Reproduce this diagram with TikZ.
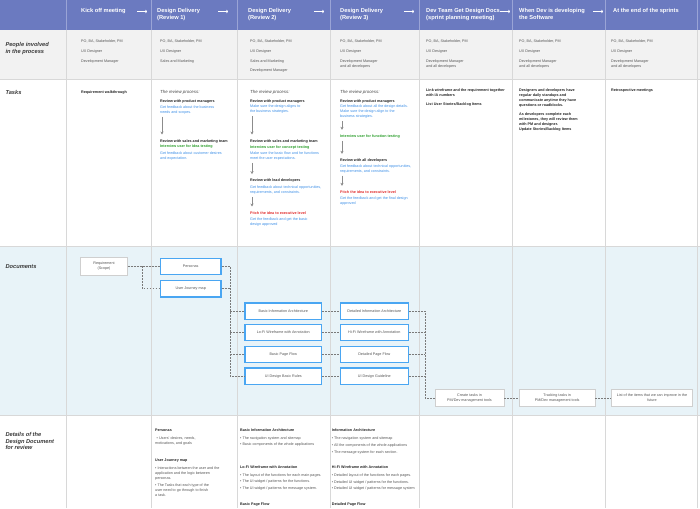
\documentclass[tikz,border=0pt]{standalone}
\usepackage{fontspec}
\setmainfont{Liberation Sans}
\usetikzlibrary{arrows.meta}

\definecolor{hdrblue}{HTML}{6B7AC0}
\definecolor{hdrline}{HTML}{9AA4D6}
\definecolor{peoplebg}{HTML}{F2F2F2}
\definecolor{docbg}{HTML}{E8F3F8}
\definecolor{gridgray}{HTML}{D8D8D8}
\definecolor{noteblue}{HTML}{3C8EE6}
\definecolor{notegreen}{HTML}{2A9D2A}
\definecolor{notered}{HTML}{E02A2A}
\definecolor{boxblue}{HTML}{4AA6F2}
\definecolor{boxgray}{HTML}{CFCFCF}
\definecolor{linkgray}{HTML}{7A7A7A}
\definecolor{flowgray}{HTML}{8C8C8C}
\definecolor{txtgray}{HTML}{555555}
\definecolor{txtdark}{HTML}{222222}

\newcommand{\steptitle}[1]{{\bfseries\color{txtdark}#1}}
\newcommand{\stepgreen}[1]{{\bfseries\color{notegreen}#1}}
\newcommand{\stepred}[1]{{\bfseries\color{notered}#1}}
\newcommand{\dtitle}[1]{{\bfseries\color{txtdark}#1}}

\tikzset{
  celltext/.style={font=\fontsize{3.7}{5}\selectfont, inner sep=0pt, anchor=north west, align=left},
  peopletext/.style={celltext, text=txtgray},
  tasktext/.style={celltext, text=txtdark, font=\fontsize{3.7}{5}\selectfont\bfseries},
  stepnote/.style={celltext, text=noteblue},
  detailtext/.style={celltext, text=txtgray},
  reviewtitle/.style={celltext, text=txtdark!85, font=\fontsize{4.4}{5}\selectfont\itshape},
  rowlabel/.style={inner sep=0pt, anchor=north west, align=left, text=txtdark!90,
    font=\fontsize{5.7}{7}\selectfont\bfseries\itshape},
  headtext/.style={inner sep=0pt, anchor=north west, align=left, text=white,
    font=\fontsize{5.7}{6.7}\selectfont\bfseries},
  headarrow/.style={white, line width=0.8pt, -{To[length=1.8pt,width=3.4pt]}},
  docbox/.style={fill=white, inner sep=0pt, align=center, text=txtgray,
    font=\fontsize{3.7}{5}\selectfont},
  keybox/.style={docbox, draw=boxblue, line width=1.3pt},
  plainbox/.style={docbox, draw=boxgray, line width=0.8pt},
  link/.style={linkgray, line width=0.6pt, dash pattern=on 1.8pt off 1.2pt},
  flow/.style={flowgray, line width=0.8pt, -{Stealth[length=3pt,width=3.2pt]}}
}

\begin{document}
\begin{tikzpicture}[x=1pt, y=-1pt]
\useasboundingbox (0,0) rectangle (700,508);

% bands
\fill[hdrblue] (0,0) rectangle (700,30);
\fill[peoplebg] (0,30) rectangle (700,80);
\fill[docbg] (0,246) rectangle (700,415);
\draw[gridgray, line width=1pt] (0,80) -- (700,80) (0,246) -- (700,246) (0,415) -- (700,415);
\foreach \x in {66,151,237,330,419,512,605,697} {
  \draw[hdrline, line width=1pt] (\x,0) -- (\x,30);
  \draw[gridgray, line width=1pt] (\x,30) -- (\x,508);
}

% header
\node[headtext] (h1) at (81,8.6) {Kick off meeting};
\node[headtext] (h2) at (157,8.6) {Design Delivery\\(Review 1)};
\node[headtext] (h3) at (248,8.6) {Design Delivery\\(Review 2)};
\node[headtext] (h4) at (340,8.6) {Design Delivery\\(Review 3)};
\node[headtext] (h5) at (426,8.6) {Dev Team Get Design Docs\\(sprint planning meeting)};
\node[headtext] (h6) at (519,8.6) {When Dev is developing\\the Software};
\node[headtext] (h7) at (613,8.6) {At the end of the sprints};
\foreach \ax in {142,223,319,409,505,598}
  \draw[headarrow] (\ax-5,11.5) -- (\ax+5,11.5);

% row labels
\node[rowlabel] (lpeople) at (5.3,42.3) {People involved\\in the process};
\node[rowlabel] (ltasks) at (5.3,90.2) {Tasks};
\node[rowlabel] (ldocs) at (5.3,264) {Documents};
\node[rowlabel, font=\fontsize{5.7}{6.7}\selectfont\bfseries\itshape] (ldetails) at (5.3,432.2) {Details of the\\Design Document\\for review};

% people involved
\node[peopletext] (p1) at (81,39.3) {PO, BA, Stakeholder, PM\\[5pt]UX Designer\\[5pt]Development Manager};
\node[peopletext] (p2) at (160,39.3) {PO, BA, Stakeholder, PM\\[5pt]UX Designer\\[5pt]Sales and Marketing};
\node[peopletext] (p3) at (250,39.3) {PO, BA, Stakeholder, PM\\[5pt]UX Designer\\[5pt]Sales and Marketing\\[4.6pt]Development Manager};
\node[peopletext] (p4) at (340,39.3) {PO, BA, Stakeholder, PM\\[5pt]UX Designer\\[5pt]Development Manager\\and all developers};
\node[peopletext] (p5) at (426,39.3) {PO, BA, Stakeholder, PM\\[5pt]UX Designer\\[5pt]Development Manager\\and all developers};
\node[peopletext] (p6) at (519,39.3) {PO, BA, Stakeholder, PM\\[5pt]UX Designer\\[5pt]Development Manager\\and all developers};
\node[peopletext] (p7) at (611,39.3) {PO, BA, Stakeholder, PM\\[5pt]UX Designer\\[5pt]Development Manager\\and all developers};

% tasks
\node[tasktext] (t1) at (81,90.6) {Requirement walkthrough};

\node[reviewtitle] (rev2) at (160,90.4) {The review process:};
\node[stepnote] (s2a) at (160,99.3) {\steptitle{Review with product managers}\\[1pt]Get feedback about the business\\needs and scopes.};
\node[stepnote] (s2b) at (160,139.3) {\steptitle{Review with sales and marketing team}\\[0.6pt]\stepgreen{Interview user for Idea testing}\\[1.7pt]Get feedback about customer desires\\and expectation.};
\draw[flow] ([xshift=2pt,yshift=-2.5pt]s2a.south west) -- ([xshift=2pt,yshift=4.8pt]s2b.north west);

\node[reviewtitle] (rev3) at (250,90.4) {The review process:};
\node[stepnote] (s3a) at (250,99.3) {\steptitle{Review with product managers}\\[0.6pt]Make sure the design aligns to\\the business strategies.};
\node[stepnote] (s3b) at (250,139.3) {\steptitle{Review with sales and marketing team}\\[1pt]\stepgreen{Interview user for concept testing}\\[1.3pt]Make sure the basic flow and he functions\\meet the user expectations.};
\node[stepnote] (s3c) at (250,178.9) {\steptitle{Review with lead developers}\\[1.7pt]Get feedback about technical opportunities,\\requirements, and constraints.};
\node[stepnote] (s3d) at (250,211.3) {\stepred{Pitch the idea to executive level}\\[1pt]Get the feedback and get the basic\\design approved};
\draw[flow] ([xshift=2pt,yshift=-2.5pt]s3a.south west) -- ([xshift=2pt,yshift=4.8pt]s3b.north west);
\draw[flow] ([xshift=2pt,yshift=-2.5pt]s3b.south west) -- ([xshift=2pt,yshift=4.8pt]s3c.north west);
\draw[flow] ([xshift=2pt,yshift=-2.5pt]s3c.south west) -- ([xshift=2pt,yshift=4.8pt]s3d.north west);

\node[reviewtitle] (rev4) at (340,90.4) {The review process:};
\node[stepnote] (s4a) at (340,99.3) {\steptitle{Review with product managers}\\[0.6pt]Get feedback about all the design details.\\Make sure the design align to the\\business strategies.};
\node[stepnote] (s4b) at (340,134.6) {\stepgreen{Interview user for function testing}};
\node[stepnote] (s4c) at (340,158.6) {\steptitle{Review with all developers}\\[0.7pt]Get feedback about technical opportunities,\\requirements, and constraints.};
\node[stepnote] (s4d) at (340,190.6) {\stepred{Pitch the idea to executive level}\\[1pt]Get the feedback and get the final design\\approved};
\draw[flow] ([xshift=2pt,yshift=-2.5pt]s4a.south west) -- ([xshift=2pt,yshift=4.8pt]s4b.north west);
\draw[flow] ([xshift=2pt,yshift=-2.5pt]s4b.south west) -- ([xshift=2pt,yshift=4.8pt]s4c.north west);
\draw[flow] ([xshift=2pt,yshift=-2.5pt]s4c.south west) -- ([xshift=2pt,yshift=4.8pt]s4d.north west);

\node[tasktext] (t5) at (426,88.6) {Link wireframe and the requirement together\\with IA numbers\\[4.3pt]List User Stories/Backlog Items};
\node[tasktext] (t6) at (519,88.6) {Designers and developers have\\regular daily standups and\\communicate anytime they have\\questions or roadblocks.\\[4.3pt]As developers complete each\\milestones, they will review them\\with PM and designer.\\Update Stories/Backlog Items};
\node[tasktext] (t7) at (611,88.6) {Retrospective meetings};

% documents
\node[plainbox, minimum width=46.6pt, minimum height=17.3pt] (req) at (104,266.3) {Requirement\\(Scope)};
\node[keybox, minimum width=60.7pt, minimum height=16pt] (persona) at (190.7,266.3) {Personas};
\node[keybox, minimum width=60.7pt, minimum height=16.7pt] (journey) at (190.7,288.7) {User Journey map};

\node[keybox, minimum width=76.7pt, minimum height=16.3pt] (bia) at (283.3,311) {Basic Information Architecture};
\node[keybox, minimum width=76.7pt, minimum height=16.3pt] (lofi) at (283.3,332.5) {Lo-Fi Wireframe with Annotation};
\node[keybox, minimum width=76.7pt, minimum height=16.3pt] (bpf) at (283.3,354.5) {Basic Page Flow};
\node[keybox, minimum width=76.7pt, minimum height=16.3pt] (uib) at (283.3,376.2) {UI Design Basic Rules};

\node[keybox, minimum width=68pt, minimum height=16.3pt] (dia) at (374.3,311) {Detailed Information Architecture};
\node[keybox, minimum width=68pt, minimum height=16.3pt] (hifi) at (374.3,332.5) {Hi-Fi Wireframe with Annotation};
\node[keybox, minimum width=68pt, minimum height=16.3pt] (dpf) at (374.3,354.5) {Detailed Page Flow};
\node[keybox, minimum width=68pt, minimum height=16.3pt] (uig) at (374.3,376.2) {UI Design Guideline};

\node[plainbox, minimum width=69pt, minimum height=17.7pt] (ctask) at (469.5,397.8) {Create tasks in\\PM/Dev management tools};
\node[plainbox, minimum width=75.7pt, minimum height=17.7pt] (ttask) at (557.2,397.8) {Tracking tasks in\\PM/Dev management tools};
\node[plainbox, minimum width=81.4pt, minimum height=17.7pt] (litem) at (652,397.8) {List of the items that we can improve in the\\future};

\coordinate (reqsplit) at (142,266.3);
\draw[link] (req) -- (reqsplit) -- (persona);
\draw[link] (reqsplit) |- (journey);

\coordinate (uxsplit) at (230,266.3);
\draw[link] (persona) -- (uxsplit) |- (uib);
\draw[link] (journey) -- (journey -| uxsplit);
\foreach \b in {bia,lofi,bpf}
  \draw[link] (uxsplit |- \b) -- (\b);

\draw[link] (bia) -- (dia);
\draw[link] (lofi) -- (hifi);
\draw[link] (bpf) -- (dpf);
\draw[link] (uib) -- (uig);

\coordinate (devsplit) at (425,311);
\draw[link] (dia) -- (devsplit) |- (ctask);
\foreach \b in {hifi,dpf,uig}
  \draw[link] (\b) -- (\b -| devsplit);
\draw[link] (ctask) -- (ttask);
\draw[link] (ttask) -- (litem);

% details
\node[detailtext] (d2) at (155,428.9) {\dtitle{Personas}\\[2.4pt]\hspace*{1.5pt}\textbullet\ Users' desires, needs,\\motivations, and goals\\[12pt]\dtitle{User Journey map}\\[3.4pt]\textbullet\ Interactions between the user and the\\application and the logic between\\personas.\\[2pt]\textbullet\ The Tasks that each type of the\\user need to go through to finish\\a task.};
\node[detailtext] (d3) at (240,428.9) {\dtitle{Basic Information Architecture}\\[3pt]\textbullet\ The navigation system and sitemap\\[1pt]\textbullet\ Basic components of the whole applications\\[18pt]\dtitle{Lo-Fi Wireframe with Annotation}\\[2.7pt]\textbullet\ The layout of the functions for each main pages.\\[1.3pt]\textbullet\ The UI widget / patterns for the functions.\\[1.7pt]\textbullet\ The UI widget / patterns for message system.\\[11.3pt]\dtitle{Basic Page Flow}};
\node[detailtext] (d4) at (331.7,428.9) {\dtitle{Information Architecture}\\[3pt]\textbullet\ The navigation system and sitemap\\[1.7pt]\textbullet\ All the components of the whole applications\\[2.3pt]\textbullet\ The message system for each section.\\[10pt]\dtitle{Hi-Fi Wireframe with Annotation}\\[2.7pt]\textbullet\ Detailed layout of the functions for each pages.\\[1.7pt]\textbullet\ Detailed UI widget / patterns for the functions.\\[1.6pt]\textbullet\ Detailed UI widget / patterns for message system\\[11pt]\dtitle{Detailed Page Flow}};
\end{tikzpicture}
\end{document}
